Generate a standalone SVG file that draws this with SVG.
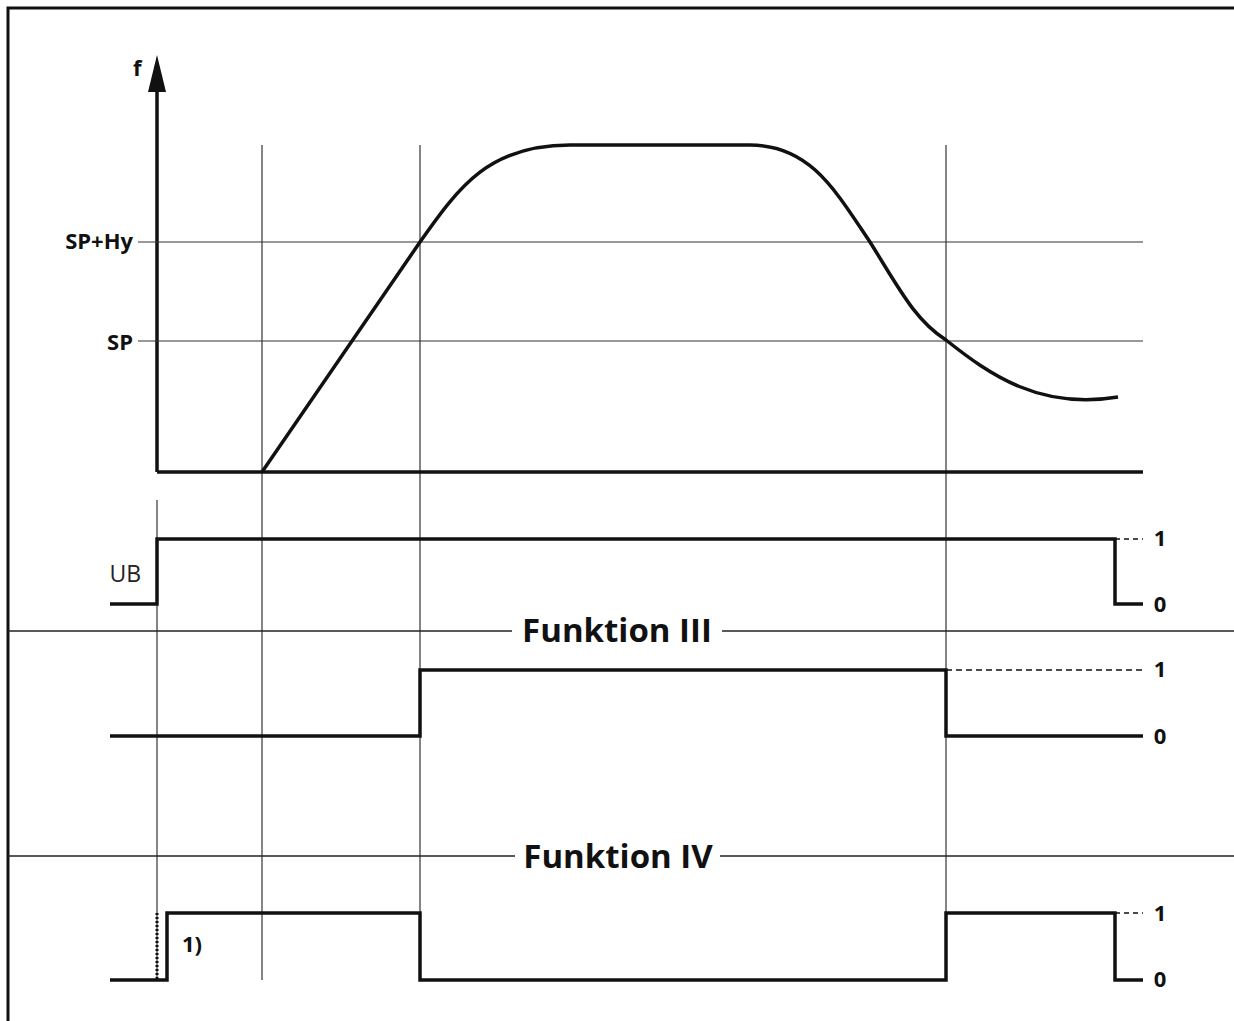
<svg xmlns="http://www.w3.org/2000/svg" width="1234" height="1021" viewBox="0 0 1234 1021">
<style>
.t{font-family:"Open Sans","Liberation Sans",sans-serif;font-weight:bold;fill:#111}
.thin{stroke:#333;stroke-width:1.2;fill:none}
.thick{stroke:#111;stroke-width:3.5;fill:none}
.sep{stroke:#222;stroke-width:1.5}
</style>
<rect width="1234" height="1021" fill="#fff"/>
<path d="M8,1021 V8 H1234" stroke="#111" stroke-width="3" fill="none"/>
<g id="axes">
<line x1="157" y1="472" x2="157" y2="85" stroke="#111" stroke-width="3.5"/>
<polygon points="157,55 148,92 166,92" fill="#111"/>
<text class="t" x="133" y="76" font-size="22">f</text>
<text class="t" x="133" y="249" font-size="22" text-anchor="end">SP+Hy</text>
<text class="t" x="133" y="350" font-size="22" text-anchor="end">SP</text>
</g>
<g id="grid">
<line class="thin" x1="138" y1="242" x2="1143" y2="242"/>
<line class="thin" x1="138" y1="341" x2="1143" y2="341"/>
<line class="thin" x1="157" y1="500" x2="157" y2="980"/>
<line class="thin" x1="262" y1="145" x2="262" y2="980"/>
<line class="thin" x1="420" y1="145" x2="420" y2="980"/>
<line class="thin" x1="946" y1="145" x2="946" y2="980"/>
<line class="sep" x1="8" y1="631" x2="512" y2="631"/>
<line class="sep" x1="722" y1="631" x2="1234" y2="631"/>
<line class="sep" x1="8" y1="856" x2="515" y2="856"/>
<line class="sep" x1="720" y1="856" x2="1234" y2="856"/>
<text class="t" x="617" y="642" font-size="33" text-anchor="middle">Funktion III</text>
<text class="t" x="618" y="868" font-size="33" text-anchor="middle">Funktion IV</text>
</g>
<g id="curve">
<path class="thick" d="M157,472 H1143"/>
<path class="thick" d="M262,472 L420,242 C460,185 490,145 570,145 H750 C810,145 835,190 870,242 C900,290 915,320 946,340 C990,375 1040,410 1118,397"/>
</g>
<g id="ub">
<path class="thick" d="M110,604 H157 V539 H1115 V604 H1143"/>
<line x1="1115" y1="539" x2="1143" y2="539" stroke="#111" stroke-width="1.5" stroke-dasharray="5,4"/>
<text x="141" y="582" font-family="Open Sans,Liberation Sans,sans-serif" font-size="23" fill="#222" text-anchor="end">UB</text>
<text class="t" x="1160" y="546" font-size="22" text-anchor="middle">1</text>
<text class="t" x="1160" y="612" font-size="22" text-anchor="middle">0</text>
</g>
<g id="f3">
<path class="thick" d="M110,736 H420 V670 H946 V736 H1143"/>
<line x1="946" y1="670" x2="1143" y2="670" stroke="#111" stroke-width="1.5" stroke-dasharray="6,4"/>
<text class="t" x="1160" y="677" font-size="22" text-anchor="middle">1</text>
<text class="t" x="1160" y="744" font-size="22" text-anchor="middle">0</text>
</g>
<g id="f4">
<path class="thick" d="M110,980 H167 V913 H420 V980 H946 V913 H1115 V980 H1143"/>
<line x1="157" y1="913" x2="157" y2="980" stroke="#111" stroke-width="3" stroke-dasharray="2,2"/>
<line x1="1115" y1="913" x2="1143" y2="913" stroke="#111" stroke-width="1.5" stroke-dasharray="5,4"/>
<text class="t" x="182" y="952" font-size="22">1)</text>
<text class="t" x="1160" y="921" font-size="22" text-anchor="middle">1</text>
<text class="t" x="1160" y="987" font-size="22" text-anchor="middle">0</text>
</g>
</svg>
